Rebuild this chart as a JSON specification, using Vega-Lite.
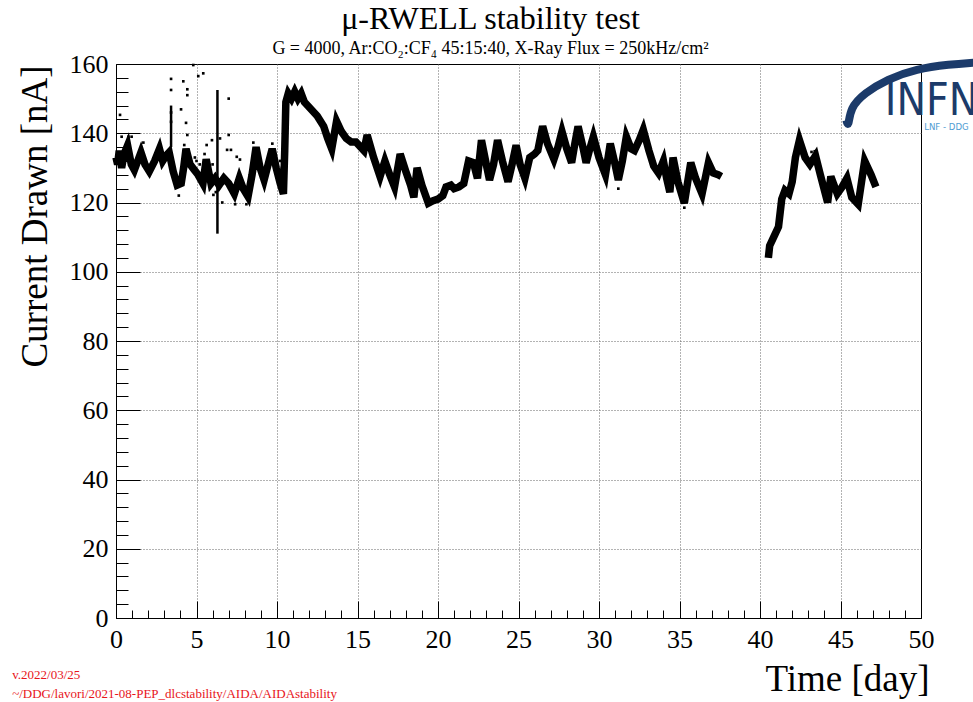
{
  "$schema": "https://vega.github.io/schema/vega-lite/v6.json",
  "width": 805,
  "height": 554,
  "autosize": {"type": "none"},
  "padding": {"left": 116, "top": 64, "right": 52, "bottom": 84},
  "background": "white",
  "config": {
    "view": {"stroke": "black", "strokeWidth": 1},
    "font": "Liberation Serif"
  },
  "title": {
    "text": "μ-RWELL stability test",
    "subtitle": "G = 4000, Ar:CO₂:CF₄ 45:15:40, X-Ray Flux = 250kHz/cm²",
    "font": "Liberation Serif",
    "fontSize": 32,
    "fontWeight": "normal",
    "color": "black",
    "subtitleFont": "Liberation Serif",
    "subtitleFontSize": 18,
    "subtitleColor": "black",
    "subtitlePadding": 4,
    "anchor": "middle",
    "dx": -28,
    "offset": -12
  },
  "datasets": {
    "trace": [
      {"seg": 1, "day": 0.0, "nA": 133}, {"seg": 1, "day": 0.1, "nA": 131}, {"seg": 1, "day": 0.2, "nA": 135},
      {"seg": 1, "day": 0.35, "nA": 130}, {"seg": 1, "day": 0.5, "nA": 134}, {"seg": 1, "day": 0.72, "nA": 136.5},
      {"seg": 1, "day": 0.95, "nA": 131}, {"seg": 1, "day": 1.14, "nA": 129.4}, {"seg": 1, "day": 1.35, "nA": 132},
      {"seg": 1, "day": 1.55, "nA": 134.5}, {"seg": 1, "day": 1.8, "nA": 131}, {"seg": 1, "day": 2.07, "nA": 129},
      {"seg": 1, "day": 2.4, "nA": 132}, {"seg": 1, "day": 2.7, "nA": 135.5}, {"seg": 1, "day": 2.9, "nA": 132},
      {"seg": 1, "day": 3.1, "nA": 133.5}, {"seg": 1, "day": 3.3, "nA": 134.5}, {"seg": 1, "day": 3.55, "nA": 129},
      {"seg": 1, "day": 3.8, "nA": 125}, {"seg": 1, "day": 4.05, "nA": 125.5}, {"seg": 1, "day": 4.2, "nA": 130},
      {"seg": 1, "day": 4.35, "nA": 135.5}, {"seg": 1, "day": 4.6, "nA": 131}, {"seg": 1, "day": 4.85, "nA": 129.5},
      {"seg": 1, "day": 5.1, "nA": 128}, {"seg": 1, "day": 5.4, "nA": 125.5}, {"seg": 1, "day": 5.6, "nA": 132.5},
      {"seg": 1, "day": 5.9, "nA": 125.5}, {"seg": 1, "day": 6.15, "nA": 127}, {"seg": 1, "day": 6.4, "nA": 125},
      {"seg": 1, "day": 6.7, "nA": 127}, {"seg": 1, "day": 7.0, "nA": 125.5}, {"seg": 1, "day": 7.35, "nA": 122.5},
      {"seg": 1, "day": 7.66, "nA": 127}, {"seg": 1, "day": 7.9, "nA": 124}, {"seg": 1, "day": 8.2, "nA": 121.7},
      {"seg": 1, "day": 8.45, "nA": 128}, {"seg": 1, "day": 8.7, "nA": 136}, {"seg": 1, "day": 8.95, "nA": 130},
      {"seg": 1, "day": 9.2, "nA": 126.5}, {"seg": 1, "day": 9.45, "nA": 131}, {"seg": 1, "day": 9.7, "nA": 135.5},
      {"seg": 1, "day": 9.95, "nA": 130}, {"seg": 1, "day": 10.2, "nA": 125.5}, {"seg": 1, "day": 10.4, "nA": 122.5},
      {"seg": 1, "day": 10.48, "nA": 135}, {"seg": 1, "day": 10.55, "nA": 149}, {"seg": 1, "day": 10.7, "nA": 151.5},
      {"seg": 1, "day": 10.9, "nA": 150}, {"seg": 1, "day": 11.1, "nA": 152}, {"seg": 1, "day": 11.3, "nA": 150},
      {"seg": 1, "day": 11.5, "nA": 151.5}, {"seg": 1, "day": 11.7, "nA": 149}, {"seg": 1, "day": 11.9, "nA": 148},
      {"seg": 1, "day": 12.2, "nA": 146.5}, {"seg": 1, "day": 12.5, "nA": 145}, {"seg": 1, "day": 12.9, "nA": 142},
      {"seg": 1, "day": 13.15, "nA": 138.5}, {"seg": 1, "day": 13.4, "nA": 135.5}, {"seg": 1, "day": 13.7, "nA": 143.5},
      {"seg": 1, "day": 14.0, "nA": 140.5}, {"seg": 1, "day": 14.3, "nA": 138.5}, {"seg": 1, "day": 14.6, "nA": 137.5},
      {"seg": 1, "day": 14.9, "nA": 137.5}, {"seg": 1, "day": 15.2, "nA": 136}, {"seg": 1, "day": 15.4, "nA": 135},
      {"seg": 1, "day": 15.6, "nA": 139.5}, {"seg": 1, "day": 16.0, "nA": 133}, {"seg": 1, "day": 16.4, "nA": 127.5},
      {"seg": 1, "day": 16.7, "nA": 132}, {"seg": 1, "day": 17.0, "nA": 128}, {"seg": 1, "day": 17.3, "nA": 124.5},
      {"seg": 1, "day": 17.65, "nA": 134}, {"seg": 1, "day": 18.0, "nA": 129}, {"seg": 1, "day": 18.3, "nA": 125},
      {"seg": 1, "day": 18.5, "nA": 121.5}, {"seg": 1, "day": 18.7, "nA": 130}, {"seg": 1, "day": 19.0, "nA": 125},
      {"seg": 1, "day": 19.4, "nA": 119.8}, {"seg": 1, "day": 19.7, "nA": 120.5}, {"seg": 1, "day": 20.0, "nA": 121},
      {"seg": 1, "day": 20.3, "nA": 122}, {"seg": 1, "day": 20.5, "nA": 124.5}, {"seg": 1, "day": 20.8, "nA": 125},
      {"seg": 1, "day": 21.0, "nA": 124}, {"seg": 1, "day": 21.3, "nA": 124.5}, {"seg": 1, "day": 21.6, "nA": 125.5},
      {"seg": 1, "day": 21.9, "nA": 132}, {"seg": 1, "day": 22.2, "nA": 131.5}, {"seg": 1, "day": 22.45, "nA": 127},
      {"seg": 1, "day": 22.7, "nA": 138}, {"seg": 1, "day": 23.0, "nA": 131}, {"seg": 1, "day": 23.2, "nA": 126.5},
      {"seg": 1, "day": 23.45, "nA": 131}, {"seg": 1, "day": 23.7, "nA": 138}, {"seg": 1, "day": 24.0, "nA": 132},
      {"seg": 1, "day": 24.35, "nA": 126}, {"seg": 1, "day": 24.6, "nA": 131}, {"seg": 1, "day": 24.85, "nA": 136.5},
      {"seg": 1, "day": 25.1, "nA": 131}, {"seg": 1, "day": 25.4, "nA": 127}, {"seg": 1, "day": 25.7, "nA": 133},
      {"seg": 1, "day": 26.0, "nA": 134}, {"seg": 1, "day": 26.2, "nA": 135}, {"seg": 1, "day": 26.5, "nA": 142},
      {"seg": 1, "day": 26.8, "nA": 137}, {"seg": 1, "day": 27.2, "nA": 132.5}, {"seg": 1, "day": 27.45, "nA": 136},
      {"seg": 1, "day": 27.7, "nA": 140.5}, {"seg": 1, "day": 28.0, "nA": 135.5}, {"seg": 1, "day": 28.3, "nA": 131.5},
      {"seg": 1, "day": 28.5, "nA": 137}, {"seg": 1, "day": 28.7, "nA": 142}, {"seg": 1, "day": 29.0, "nA": 136},
      {"seg": 1, "day": 29.2, "nA": 131.5}, {"seg": 1, "day": 29.4, "nA": 135}, {"seg": 1, "day": 29.65, "nA": 139},
      {"seg": 1, "day": 30.0, "nA": 133}, {"seg": 1, "day": 30.4, "nA": 128}, {"seg": 1, "day": 30.7, "nA": 137},
      {"seg": 1, "day": 31.0, "nA": 131}, {"seg": 1, "day": 31.2, "nA": 126.5}, {"seg": 1, "day": 31.45, "nA": 132},
      {"seg": 1, "day": 31.7, "nA": 139}, {"seg": 1, "day": 32.0, "nA": 135.5}, {"seg": 1, "day": 32.2, "nA": 135},
      {"seg": 1, "day": 32.5, "nA": 138}, {"seg": 1, "day": 32.75, "nA": 141}, {"seg": 1, "day": 33.1, "nA": 135},
      {"seg": 1, "day": 33.4, "nA": 130.5}, {"seg": 1, "day": 33.7, "nA": 128.5}, {"seg": 1, "day": 34.0, "nA": 132},
      {"seg": 1, "day": 34.2, "nA": 127}, {"seg": 1, "day": 34.4, "nA": 123}, {"seg": 1, "day": 34.6, "nA": 133},
      {"seg": 1, "day": 34.9, "nA": 126}, {"seg": 1, "day": 35.3, "nA": 119.8}, {"seg": 1, "day": 35.7, "nA": 131.5},
      {"seg": 1, "day": 36.0, "nA": 127}, {"seg": 1, "day": 36.4, "nA": 122.5}, {"seg": 1, "day": 36.8, "nA": 131.5},
      {"seg": 1, "day": 37.1, "nA": 128.5}, {"seg": 1, "day": 37.4, "nA": 128}, {"seg": 1, "day": 37.6, "nA": 127.5},
      {"seg": 2, "day": 40.52, "nA": 104}, {"seg": 2, "day": 40.6, "nA": 107.5}, {"seg": 2, "day": 40.9, "nA": 110.5},
      {"seg": 2, "day": 41.15, "nA": 113}, {"seg": 2, "day": 41.35, "nA": 121}, {"seg": 2, "day": 41.55, "nA": 123.5},
      {"seg": 2, "day": 41.8, "nA": 122.5}, {"seg": 2, "day": 42.0, "nA": 126}, {"seg": 2, "day": 42.2, "nA": 133},
      {"seg": 2, "day": 42.45, "nA": 138}, {"seg": 2, "day": 42.8, "nA": 133}, {"seg": 2, "day": 43.1, "nA": 131},
      {"seg": 2, "day": 43.45, "nA": 133.5}, {"seg": 2, "day": 43.75, "nA": 128}, {"seg": 2, "day": 44.2, "nA": 120},
      {"seg": 2, "day": 44.4, "nA": 127.5}, {"seg": 2, "day": 44.8, "nA": 122.5}, {"seg": 2, "day": 45.1, "nA": 124.5},
      {"seg": 2, "day": 45.4, "nA": 127}, {"seg": 2, "day": 45.7, "nA": 121.5}, {"seg": 2, "day": 46.1, "nA": 119.5},
      {"seg": 2, "day": 46.5, "nA": 132}, {"seg": 2, "day": 46.9, "nA": 128}, {"seg": 2, "day": 47.2, "nA": 124.5}
    ],
    "spikes": [
      {"day": 6.3, "lo": 111, "hi": 152.5},
      {"day": 3.42, "lo": 136, "hi": 148}
    ],
    "outliers": [
      {"day": 4.8, "nA": 159.7}, {"day": 3.42, "nA": 155.7}, {"day": 3.42, "nA": 152.5}, {"day": 4.18, "nA": 155},
      {"day": 4.43, "nA": 152.7}, {"day": 4.43, "nA": 151}, {"day": 5.11, "nA": 156.5}, {"day": 5.42, "nA": 157.3},
      {"day": 7.0, "nA": 150}, {"day": 4.04, "nA": 146.9}, {"day": 3.42, "nA": 146}, {"day": 3.42, "nA": 143.3},
      {"day": 4.35, "nA": 143}, {"day": 4.43, "nA": 139.5}, {"day": 0.25, "nA": 145.3}, {"day": 0.35, "nA": 139},
      {"day": 0.77, "nA": 139}, {"day": 0.97, "nA": 139}, {"day": 1.7, "nA": 137.3}, {"day": 5.96, "nA": 138},
      {"day": 5.63, "nA": 136.6}, {"day": 7.5, "nA": 133.2}, {"day": 7.7, "nA": 132.4}, {"day": 7.0, "nA": 139.5},
      {"day": 6.9, "nA": 135.2}, {"day": 8.53, "nA": 137.3}, {"day": 9.71, "nA": 137}, {"day": 6.05, "nA": 122.2},
      {"day": 6.2, "nA": 123}, {"day": 4.9, "nA": 133}, {"day": 5.0, "nA": 132}, {"day": 5.2, "nA": 131},
      {"day": 4.24, "nA": 136.6}, {"day": 4.39, "nA": 134.7}, {"day": 6.46, "nA": 138.5}, {"day": 7.14, "nA": 135.2},
      {"day": 10.2, "nA": 132}, {"day": 10.3, "nA": 130}, {"day": 5.5, "nA": 134}, {"day": 6.0, "nA": 131},
      {"day": 6.6, "nA": 120}, {"day": 7.4, "nA": 119.5}, {"day": 8.1, "nA": 119.5}, {"day": 3.9, "nA": 122},
      {"day": 43.4, "nA": 134.8}, {"day": 43.2, "nA": 134.6}, {"day": 31.2, "nA": 124}, {"day": 35.3, "nA": 118.5}
    ],
    "notes": [
      {"day": -6.45, "nA": -16.5, "label": "v.2022/03/25"},
      {"day": -6.45, "nA": -22, "label": "~/DDG/lavori/2021-08-PEP_dlcstability/AIDA/AIDAstability"}
    ],
    "swoosh": [
      {"day": 45.5, "nA": 141.6}, {"day": 45.36, "nA": 143.8}, {"day": 45.6, "nA": 147.4},
      {"day": 46.5, "nA": 151.6}, {"day": 47.9, "nA": 155.6}, {"day": 49.7, "nA": 158.6},
      {"day": 51.8, "nA": 159.9}, {"day": 53.3, "nA": 160.4}
    ],
    "logo": [
      {"day": 47.75, "nA": 145.3, "label": "INFN", "part": "main"},
      {"day": 50.2, "nA": 141.0, "label": "LNF - DDG", "part": "sub"}
    ]
  },
  "layer": [
    {
      "data": {"name": "trace"},
      "mark": {"type": "line", "color": "black", "strokeWidth": 7.5, "strokeJoin": "miter", "strokeCap": "butt"},
      "encoding": {
        "x": {
          "field": "day", "type": "quantitative",
          "scale": {"domain": [0, 50], "nice": false, "zero": false},
          "axis": {
            "title": "Time [day]",
            "values": [0,1,2,3,4,5,6,7,8,9,10,11,12,13,14,15,16,17,18,19,20,21,22,23,24,25,26,27,28,29,30,31,32,33,34,35,36,37,38,39,40,41,42,43,44,45,46,47,48,49,50],
            "tickCount": 1000,
            "labelExpr": "datum.value % 5 === 0 ? format(datum.value, 'd') : ''",
            "labelFont": "Liberation Serif", "labelFontSize": 26, "labelColor": "black",
            "labelPadding": 25, "labelFlush": false, "labelOverlap": false, "labelBound": false,
            "tickColor": "black", "tickWidth": 1,
            "tickSize": {"condition": {"test": "datum.value % 5 === 0", "value": -17}, "value": -8},
            "domainColor": "black", "domainWidth": 1,
            "grid": true, "gridColor": "#666", "gridDash": [1, 2], "gridWidth": 1,
            "gridOpacity": {"condition": {"test": "datum.value % 5 === 0 && datum.value > 0 && datum.value < 50", "value": 1}, "value": 0},
            "titleFont": "Liberation Serif", "titleFontSize": 37, "titleFontWeight": "normal", "titleColor": "black",
            "titleAnchor": "end", "titleAlign": "right", "titleBaseline": "alphabetic",
            "titleX": 813, "titleY": 72
          }
        },
        "y": {
          "field": "nA", "type": "quantitative",
          "scale": {"domain": [0, 160], "nice": false, "zero": true},
          "axis": {
            "title": "Current Drawn [nA]",
            "values": [0,4,8,12,16,20,24,28,32,36,40,44,48,52,56,60,64,68,72,76,80,84,88,92,96,100,104,108,112,116,120,124,128,132,136,140,144,148,152,156,160],
            "tickCount": 1000,
            "labelExpr": "datum.value % 20 === 0 ? format(datum.value, 'd') : ''",
            "labelFont": "Liberation Serif", "labelFontSize": 26, "labelColor": "black",
            "labelPadding": 32, "labelFlush": false, "labelOverlap": false, "labelBound": false,
            "tickColor": "black", "tickWidth": 1,
            "tickSize": {"condition": {"test": "datum.value % 20 === 0", "value": -24}, "value": -12},
            "domainColor": "black", "domainWidth": 1,
            "grid": true, "gridColor": "#666", "gridDash": [1, 2], "gridWidth": 1,
            "gridOpacity": {"condition": {"test": "datum.value % 20 === 0 && datum.value > 0 && datum.value < 160", "value": 1}, "value": 0},
            "titleFont": "Liberation Serif", "titleFontSize": 37, "titleFontWeight": "normal", "titleColor": "black",
            "titleAngle": -90, "titleAnchor": "end", "titleAlign": "right", "titleBaseline": "alphabetic",
            "titleX": -70, "titleY": 1
          }
        },
        "detail": {"field": "seg", "type": "nominal"}
      }
    },
    {
      "data": {"name": "spikes"},
      "mark": {"type": "rule", "color": "black", "strokeWidth": 2.5},
      "encoding": {
        "x": {"field": "day", "type": "quantitative"},
        "y": {"field": "lo", "type": "quantitative"},
        "y2": {"field": "hi"}
      }
    },
    {
      "data": {"name": "outliers"},
      "mark": {"type": "point", "shape": "square", "filled": true, "color": "black", "size": 7, "opacity": 1},
      "encoding": {
        "x": {"field": "day", "type": "quantitative"},
        "y": {"field": "nA", "type": "quantitative"}
      }
    },
    {
      "data": {"name": "notes"},
      "mark": {"type": "text", "align": "left", "baseline": "middle", "font": "Liberation Serif", "fontSize": 13, "color": "#e8141a", "clip": false},
      "encoding": {
        "x": {"field": "day", "type": "quantitative"},
        "y": {"field": "nA", "type": "quantitative"},
        "text": {"field": "label"}
      }
    },
    {
      "data": {"name": "swoosh"},
      "mark": {"type": "line", "color": "#1c3b6a", "strokeWidth": 8, "strokeCap": "butt", "interpolate": "basis", "clip": false},
      "encoding": {
        "x": {"field": "day", "type": "quantitative"},
        "y": {"field": "nA", "type": "quantitative"}
      }
    },
    {
      "data": {"name": "logo"},
      "transform": [{"filter": "datum.part === 'main'"}],
      "mark": {"type": "text", "align": "left", "baseline": "alphabetic", "font": "Liberation Sans Narrow, DejaVu Sans Condensed, Roboto, sans-serif", "fontSize": 44, "color": "#1c3b6a", "clip": false},
      "encoding": {
        "x": {"field": "day", "type": "quantitative"},
        "y": {"field": "nA", "type": "quantitative"},
        "text": {"field": "label"}
      }
    },
    {
      "data": {"name": "logo"},
      "transform": [{"filter": "datum.part === 'sub'"}],
      "mark": {"type": "text", "align": "left", "baseline": "alphabetic", "font": "Liberation Sans Narrow, DejaVu Sans Condensed, Roboto, sans-serif", "fontSize": 9.5, "color": "#4f9bd2", "clip": false},
      "encoding": {
        "x": {"field": "day", "type": "quantitative"},
        "y": {"field": "nA", "type": "quantitative"},
        "text": {"field": "label"}
      }
    }
  ]
}
